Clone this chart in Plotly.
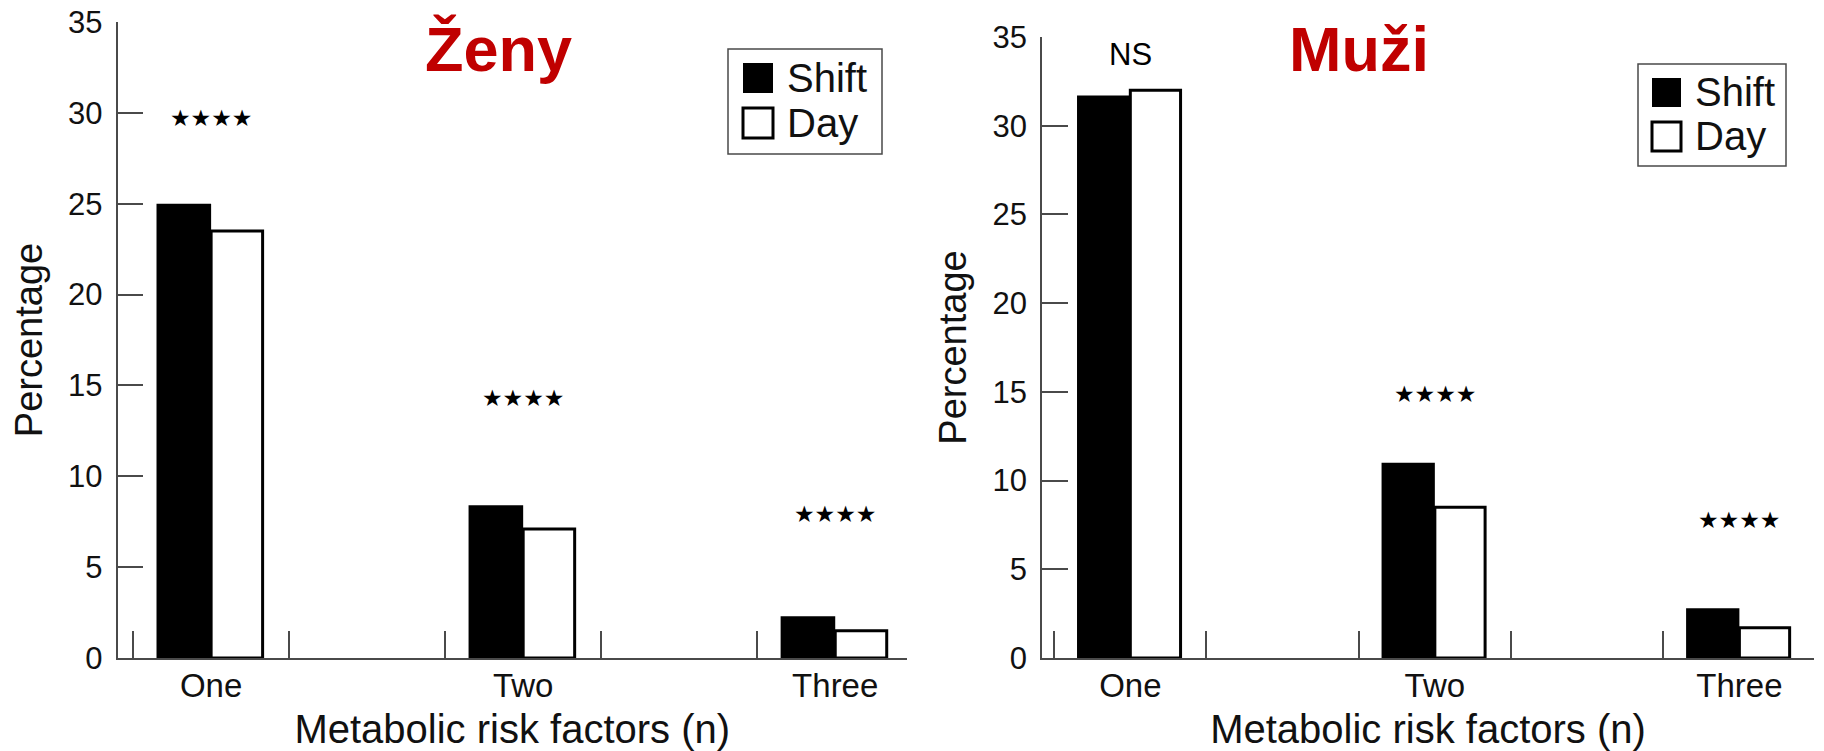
import plotly.graph_objects as go

# ---------------- data ----------------
categories = ["One", "Two", "Three"]
series_names = ["Shift", "Day"]

women_shift = [25.0, 8.4, 2.3]
women_day = [23.5, 7.1, 1.5]
women_sig = ["★★★★", "★★★★", "★★★★"]
women_sig_y = [29.7, 14.3, 7.9]

men_shift = [31.7, 11.0, 2.8]
men_day = [32.0, 8.5, 1.7]
men_sig = ["NS", "★★★★", "★★★★"]
men_sig_y = [34.0, 14.9, 7.8]

panel_titles = ["Ženy", "Muži"]
y_title = "Percentage"
x_title = "Metabolic risk factors (n)"
y_ticks = [0, 5, 10, 15, 20, 25, 30, 35]

# ---------------- styling ----------------
W, H = 1824, 751
FONT = "Liberation Sans, Arial, sans-serif"
AXC = "#4a4a4a"
TXT = "#111111"
RED = "#C00000"


def px(xp):
    return xp / W


def py(yp):
    return 1 - yp / H


xpos = list(range(len(categories)))

fig = go.Figure()

panels = [
    dict(shift=women_shift, day=women_day, sig=women_sig, sig_y=women_sig_y,
         xa="x", ya="y"),
    dict(shift=men_shift, day=men_day, sig=men_sig, sig_y=men_sig_y,
         xa="x2", ya="y2"),
]

for p in panels:
    fig.add_trace(go.Bar(
        x=xpos, y=p["shift"], name=series_names[0], width=0.175, offset=-0.175,
        marker=dict(color="black", line=dict(width=0)),
        xaxis=p["xa"], yaxis=p["ya"], showlegend=False,
    ))
    fig.add_trace(go.Bar(
        x=xpos, y=p["day"], name=series_names[1], width=0.165, offset=0.0,
        marker=dict(color="white", line=dict(color="black", width=3)),
        xaxis=p["xa"], yaxis=p["ya"], showlegend=False,
    ))

# significance marks
annotations = []
for p in panels:
    for xi, txt, yv in zip(xpos, p["sig"], p["sig_y"]):
        is_star = "★" in txt
        annotations.append(dict(
            x=xi, y=yv, xref=p["xa"], yref=p["ya"], text=txt, showarrow=False,
            xanchor="center", yanchor="middle",
            font=dict(family="DejaVu Sans" if is_star else FONT,
                      size=23 if is_star else 31, color="black"),
        ))

# panel titles
title_pos = [(498, 49), (1359, 49)]
for t, (cx, cy) in zip(panel_titles, title_pos):
    annotations.append(dict(
        x=px(cx), y=py(cy), xref="paper", yref="paper", text=t, showarrow=False,
        xanchor="center", yanchor="middle",
        font=dict(family=FONT, size=63, color=RED, weight="bold"),
    ))

# custom legends (frame + squares + labels)
legend_boxes = [
    dict(box=(728, 49, 882, 154), sq_x=(743, 773), rows=[(63, 93), (108, 138)], tx=785),
    dict(box=(1638, 64, 1786, 166), sq_x=(1652, 1681), rows=[(78, 107), (122, 151)], tx=1693),
]
shapes = []
fills = ["black", "white"]
for lb in legend_boxes:
    x0, y0, x1, y1 = lb["box"]
    shapes.append(dict(type="rect", xref="paper", yref="paper",
                       x0=px(x0), x1=px(x1), y0=py(y0), y1=py(y1),
                       line=dict(color=AXC, width=1.5), fillcolor="rgba(0,0,0,0)"))
    for name, fill, (ry0, ry1) in zip(series_names, fills, lb["rows"]):
        shapes.append(dict(type="rect", xref="paper", yref="paper",
                           x0=px(lb["sq_x"][0]), x1=px(lb["sq_x"][1]),
                           y0=py(ry0), y1=py(ry1),
                           line=dict(color="black", width=3 if fill == "white" else 0),
                           fillcolor=fill))
        annotations.append(dict(
            x=px(lb["tx"]), y=py((ry0 + ry1) / 2), xref="paper", yref="paper",
            text=name, showarrow=False, xanchor="left", yanchor="middle",
            font=dict(family=FONT, size=40, color=TXT),
        ))


def xaxis_cfg(domain, rng, anchor):
    return dict(
        domain=domain, range=rng, anchor=anchor,
        tickmode="array", tickvals=xpos, ticktext=categories,
        ticks="", showline=True, linecolor=AXC, linewidth=1.5,
        showgrid=False, zeroline=False,
        tickfont=dict(family=FONT, size=33, color=TXT),
        ticklabelstandoff=-2,
        minor=dict(ticks="inside", tick0=-0.25, dtick=0.5, ticklen=27,
                   tickwidth=1.5, tickcolor=AXC, showgrid=False),
        title=dict(text=x_title, font=dict(family=FONT, size=40, color=TXT), standoff=26),
        automargin=False, fixedrange=True,
    )


def yaxis_cfg(domain, anchor):
    return dict(
        domain=domain, range=[0, 35], anchor=anchor,
        tickmode="array", tickvals=y_ticks,
        ticks="inside", ticklen=26, tickwidth=1.5, tickcolor=AXC,
        showline=True, linecolor=AXC, linewidth=1.5,
        showgrid=False, zeroline=False,
        tickfont=dict(family=FONT, size=31, color=TXT),
        ticklabelstandoff=7,
        title=dict(text=y_title, font=dict(family=FONT, size=38, color=TXT), standoff=14),
        automargin=False, fixedrange=True,
    )


fig.update_layout(
    width=W, height=H,
    margin=dict(l=0, r=0, t=0, b=0),
    paper_bgcolor="white", plot_bgcolor="white",
    showlegend=False,
    barmode="overlay",
    xaxis=xaxis_cfg([px(117.5), px(907)], [-0.3, 2.23], "y"),
    yaxis=yaxis_cfg([py(658), py(22)], "x"),
    xaxis2=xaxis_cfg([px(1042), px(1814)], [-0.29, 2.245], "y2"),
    yaxis2=yaxis_cfg([py(658), py(37)], "x2"),
    annotations=annotations,
    shapes=shapes,
)

fig.write_html("out.html")
